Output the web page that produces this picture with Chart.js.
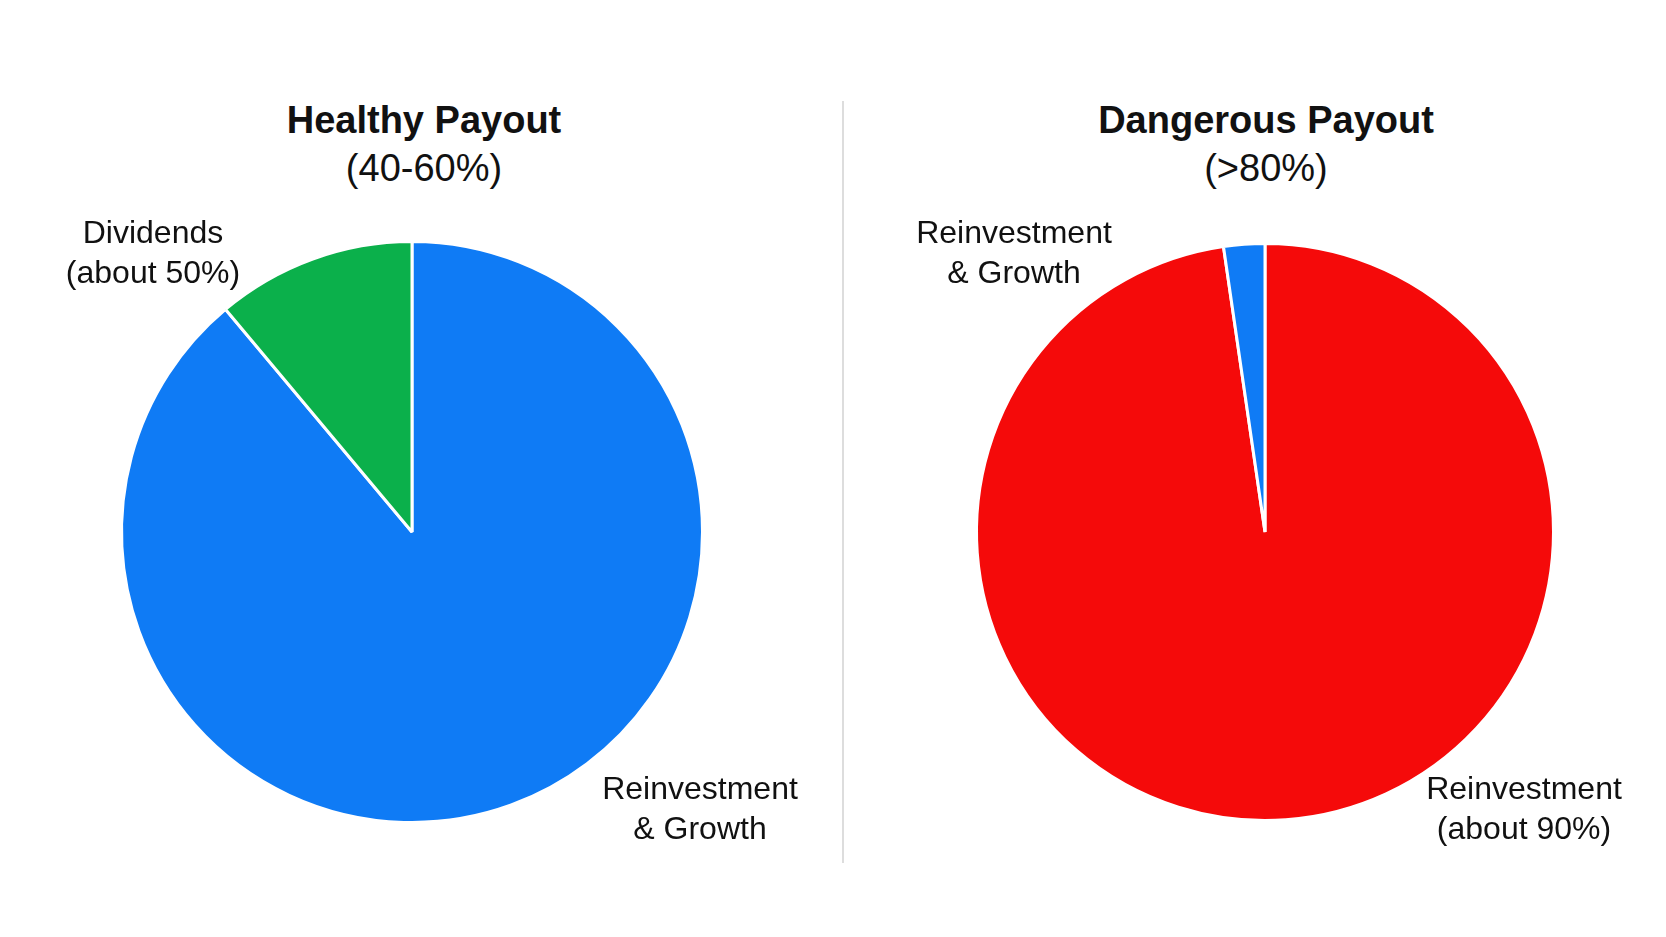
<!DOCTYPE html>
<html><head><meta charset="utf-8">
<script src="https://cdn.jsdelivr.net/npm/chart.js@4/dist/chart.umd.min.js"></script>
<style>
body{margin:0;width:1666px;height:937px;background:#fff;position:relative;overflow:hidden;font-family:"Liberation Sans",Arial,sans-serif;color:#111}
.t{position:absolute;transform:translate(-50%,-50%);white-space:nowrap;text-align:center}
.h{font-weight:bold;font-size:38px}
.s{font-size:38px}
.l{font-size:32px;line-height:40px}
canvas{position:absolute}
#div{position:absolute;left:842px;top:101px;width:2px;height:762px;background:#ddd}
</style></head><body>
<div class="t h" style="left:424px;top:120px">Healthy Payout</div>
<div class="t s" style="left:424px;top:168px">(40-60%)</div>
<div class="t h" style="left:1266px;top:120px">Dangerous Payout</div>
<div class="t s" style="left:1266px;top:168px">(&gt;80%)</div>
<div id="div"></div>
<div style="position:absolute;left:0;top:0;width:1666px;height:937px">
<canvas id="c1" style="left:115px;top:235px" width="594" height="594"></canvas>
<canvas id="c2" style="left:970px;top:237px" width="590" height="590"></canvas>
</div>
<div class="t l" style="left:153px;top:252px">Dividends<br>(about 50%)</div>
<div class="t l" style="left:700px;top:808px">Reinvestment<br>&amp; Growth</div>
<div class="t l" style="left:1014px;top:252px">Reinvestment<br>&amp; Growth</div>
<div class="t l" style="left:1524px;top:808px">Reinvestment<br>(about 90%)</div>
<script>
const healthyLabels = ["Reinvestment & Growth", "Dividends"];
const healthyValues = [88.9, 11.1];
const healthyColors = ["#0f7bf5", "#0bb04b"];
const dangerLabels = ["Reinvestment", "Reinvestment & Growth"];
const dangerValues = [97.7, 2.3];
const dangerColors = ["#f50a0a", "#0f7bf5"];
function pie(id, labels, values, colors){
  new Chart(document.getElementById(id), {
    type: 'pie',
    data: {labels, datasets:[{data: values, backgroundColor: colors, borderColor:'#fff', borderWidth:3}]},
    options: {responsive:false, animation:false, layout:{padding:5},
      plugins:{legend:{display:false}, tooltip:{enabled:false}}}
  });
}
pie('c1', healthyLabels, healthyValues, healthyColors);
pie('c2', dangerLabels, dangerValues, dangerColors);
</script>
</body></html>
